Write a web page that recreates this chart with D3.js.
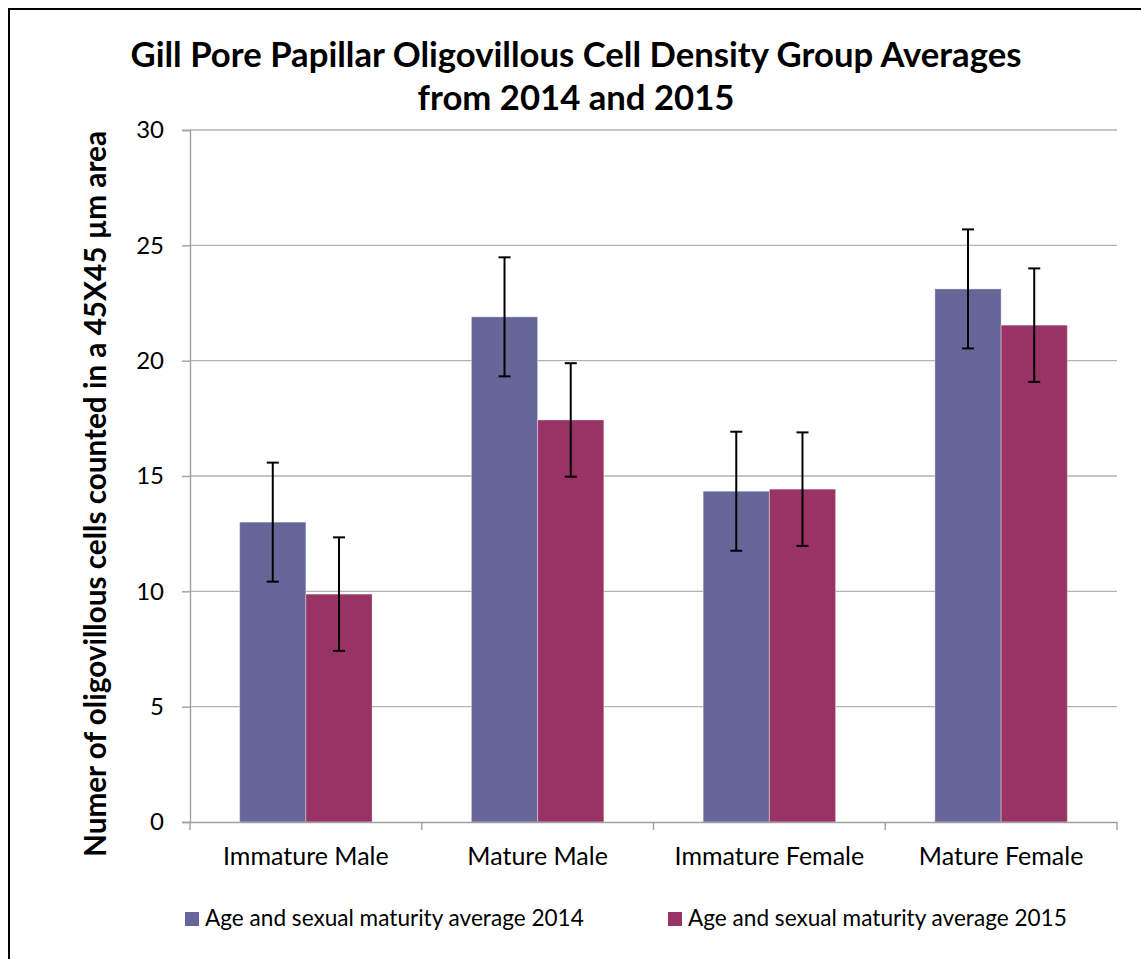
<!DOCTYPE html>
<html>
<head>
<meta charset="utf-8">
<script src="https://cdn.jsdelivr.net/npm/d3@7"></script>
<style>
  html, body { margin: 0; padding: 0; background: #fff; }
  svg { display: block; }
  text { font-family: Lato, "Open Sans", sans-serif; fill: #000; }
</style>
</head>
<body>
<svg id="chart" width="1141" height="959"></svg>
<script>
// Group averages of oligovillous cell counts per 45x45 µm area
const categories = ["Immature Male", "Mature Male", "Immature Female", "Mature Female"];
const seriesNames = ["Age and sexual maturity average 2014", "Age and sexual maturity average 2015"];
const values2014 = [13.0, 21.9, 14.34, 23.11];
const values2015 = [9.88, 17.43, 14.43, 21.54];
const errors2014 = [2.58, 2.58, 2.58, 2.58];
const errors2015 = [2.46, 2.46, 2.46, 2.46];
const yTicks = [0, 5, 10, 15, 20, 25, 30];
const titleLines = ["Gill Pore Papillar Oligovillous Cell Density Group Averages", "from 2014 and 2015"];
const yTitle = "Numer of oligovillous cells counted in a 45X45 µm area";

const colors = ["#666699", "#993366"];

const svg = d3.select("#chart");
const plot = { left: 190, right: 1117, top: 130, bottom: 822 };

// chart frame
svg.append("rect")
  .attr("x", 9).attr("y", 9).attr("width", 1200).attr("height", 1000)
  .attr("fill", "none").attr("stroke", "#000").attr("stroke-width", 2);

const x = d3.scaleBand().domain(categories).range([plot.left, plot.right]).paddingInner(0).paddingOuter(0);
const x1 = d3.scaleBand().domain([0, 1]).range([0, x.bandwidth()]).paddingOuter(0.75).paddingInner(0);
const y = d3.scaleLinear().domain([0, 30]).range([plot.bottom, plot.top]);

// horizontal gridlines
svg.append("g").selectAll("line").data(yTicks.filter(t => t > 0)).join("line")
  .attr("x1", plot.left).attr("x2", plot.right)
  .attr("y1", d => y(d)).attr("y2", d => y(d))
  .attr("stroke", "#b3b3b3").attr("stroke-width", 1.4);

// y axis
const yAxis = svg.append("g").attr("transform", `translate(${plot.left},0)`)
  .call(d3.axisLeft(y).tickValues(yTicks).tickSize(8).tickPadding(18).tickFormat(d3.format("d")));
yAxis.select(".domain").attr("stroke", "#a0a0a0").attr("stroke-width", 1.4);
yAxis.selectAll(".tick line").attr("stroke", "#a0a0a0").attr("stroke-width", 1.4);
yAxis.selectAll(".tick text").attr("font-size", 24).attr("fill", "#000")
  .style("font-family", "Lato, sans-serif");

// bars
const series = [values2014, values2015];
const errs = [errors2014, errors2015];
const barData = [];
categories.forEach((c, i) => {
  series.forEach((s, k) => barData.push({ cat: c, k, v: s[i], e: errs[k][i] }));
});

svg.append("g").selectAll("rect").data(barData).join("rect")
  .attr("x", d => x(d.cat) + x1(d.k))
  .attr("y", d => y(d.v))
  .attr("width", x1.bandwidth())
  .attr("height", d => y(0) - y(d.v))
  .attr("fill", d => colors[d.k])
  .attr("stroke", "rgba(255,255,255,0.35)").attr("stroke-width", 1);

// x axis
const xAxis = svg.append("g").attr("transform", `translate(0,${plot.bottom})`)
  .call(d3.axisBottom(x).tickSize(0).tickPadding(25));
xAxis.select(".domain").attr("stroke", "#a0a0a0").attr("stroke-width", 1.4);
xAxis.selectAll(".tick text").attr("font-size", 25).attr("fill", "#000")
  .style("font-family", "Lato, sans-serif");
// category boundary ticks
const bounds = categories.map(c => x(c)).concat([plot.right]);
svg.append("g").selectAll("line").data(bounds).join("line")
  .attr("x1", d => d).attr("x2", d => d)
  .attr("y1", plot.bottom).attr("y2", plot.bottom + 8)
  .attr("stroke", "#a0a0a0").attr("stroke-width", 1.4);

// error bars
const eg = svg.append("g").attr("stroke", "#000").attr("stroke-width", 2);
barData.forEach(d => {
  const cx = x(d.cat) + x1(d.k) + x1.bandwidth() / 2;
  eg.append("line").attr("x1", cx).attr("x2", cx).attr("y1", y(d.v + d.e)).attr("y2", y(d.v - d.e));
  eg.append("line").attr("x1", cx - 6).attr("x2", cx + 6).attr("y1", y(d.v + d.e)).attr("y2", y(d.v + d.e));
  eg.append("line").attr("x1", cx - 6).attr("x2", cx + 6).attr("y1", y(d.v - d.e)).attr("y2", y(d.v - d.e));
});

// title
svg.append("g").selectAll("text").data(titleLines).join("text")
  .attr("x", 576).attr("y", (d, i) => 67 + i * 43)
  .attr("text-anchor", "middle").attr("font-size", 34.7).attr("font-weight", "bold")
  .text(d => d);

// y axis title
svg.append("text")
  .attr("transform", `translate(106,${(plot.top + 858) / 2}) rotate(-90)`)
  .attr("text-anchor", "middle").attr("font-size", 29.7).attr("font-weight", "bold")
  .text(yTitle);

// legend
const legendX = [185, 668];
const lg = svg.append("g");
seriesNames.forEach((n, k) => {
  lg.append("rect").attr("x", legendX[k]).attr("y", 912).attr("width", 14).attr("height", 14).attr("fill", colors[k]);
  lg.append("text").attr("x", legendX[k] + 20).attr("y", 926).attr("font-size", 22.6).text(n);
});
</script>
</body>
</html>
